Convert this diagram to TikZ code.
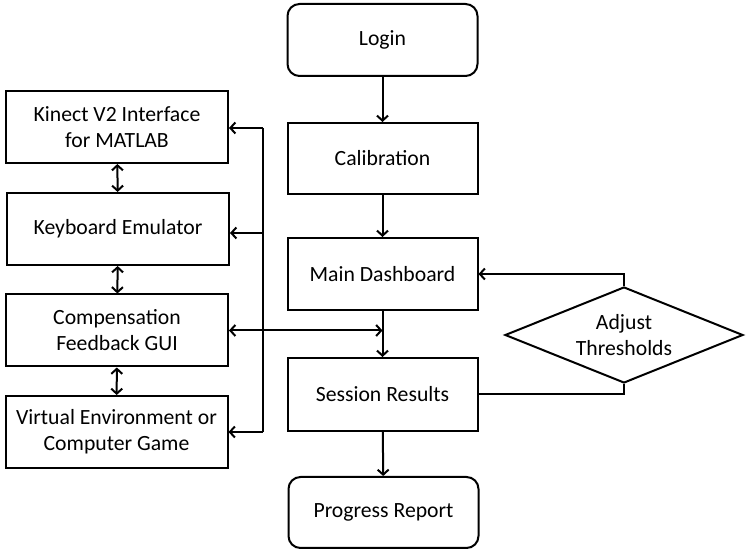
\documentclass[tikz,border=0pt]{standalone}
\usepackage{fontspec}
\setmainfont{Carlito}
\usetikzlibrary{arrows.meta,shapes.geometric}
\begin{document}
\begin{tikzpicture}[x=1pt,y=1pt,
  box/.style={draw, line width=2pt, minimum width=190pt, minimum height=72pt, inner sep=0pt, align=center, font=\fontsize{21.7}{26}\selectfont},
  rbox/.style={box, rounded corners=12pt},
  lbox/.style={box, minimum width=222pt},
  arr/.style={line width=2pt, -{Straight Barb[length=5pt,width=11pt,line width=2pt]}},
  darr/.style={line width=2pt, {Straight Barb[length=5pt,width=11pt,line width=2pt]}-{Straight Barb[length=5pt,width=11pt,line width=2pt]}},
  ln/.style={line width=2pt}]
\useasboundingbox (0,0) rectangle (746,553);
\node[rbox] (login) at (382.5,513) {Login};
\node[box, minimum height=71pt] (cal) at (382.5,394.5) {Calibration};
\node[box] (md) at (382.5,279) {Main Dashboard};
\node[box, minimum height=73pt] (sr) at (382.5,158.5) {Session Results};
\node[rbox, minimum height=71pt] (pr) at (383.5,40.5) {Progress Report};
\node[lbox] (kin) at (117,426) {Kinect V2 Interface\\for MATLAB};
\node[lbox] (kb) at (118,324) {Keyboard Emulator};
\node[lbox] (comp) at (117,222.5) {Compensation\\Feedback GUI};
\node[lbox] (virt) at (116.5,121) {Virtual Environment or\\Computer Game};
\node[draw, diamond, line width=2pt, minimum width=238pt, minimum height=96pt, inner sep=0pt, aspect=2.48, align=center, font=\fontsize{21.7}{26}\selectfont] (adj) at (624,218) {Adjust\\Thresholds};
% main flow
\draw[arr] (login) -- (cal);
\draw[arr] (cal) -- (md);
\draw[arr] (md) -- (sr);
\draw[arr] (sr) -- (pr);
% feedback loop
\draw[arr] (adj.north) |- (md.east);
\draw[ln] (adj.south) |- (sr.east);
% left stack
\draw[darr] (kin) -- (kb);
\draw[darr] (kb) -- (comp);
\draw[darr] (comp) -- (virt);
% bus
\coordinate (busT) at (263,425);
\coordinate (busK) at (263,320);
\coordinate (busB) at (263,121);
\draw[ln] (busT) -- (busB);
\draw[arr] (busT) -- (kin.east |- busT);
\draw[arr] (busK) -- (kb.east |- busK);
\draw[arr] (busB) -- (virt.east);
\coordinate (mid) at (md.south |- comp.east);
\draw[darr] (comp.east) -- (mid);
\end{tikzpicture}
\end{document}
